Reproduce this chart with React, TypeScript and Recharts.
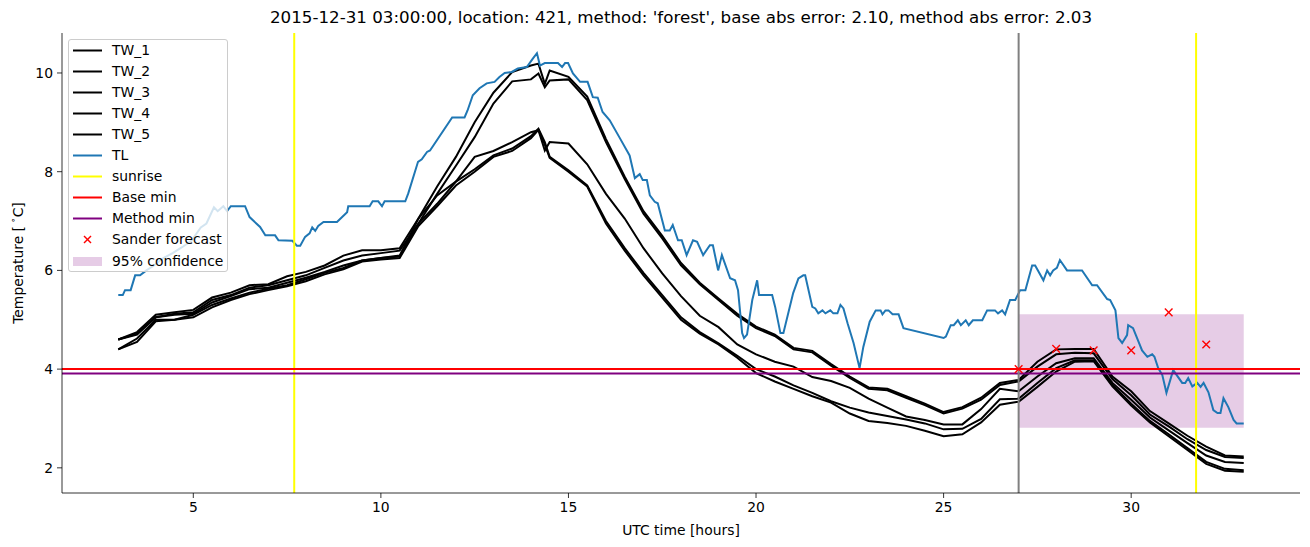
import React from "react";
import {
  ComposedChart,
  Line,
  Scatter,
  XAxis,
  YAxis,
  ReferenceLine,
  ReferenceArea,
  Legend,
  Label,
} from "recharts";

// --- data ---
const twHours = [
  3, 3.5, 4, 4.5, 5, 5.5, 6, 6.5, 7, 7.5, 8, 8.5, 9, 9.5, 10, 10.5, 11, 11.5, 12, 12.5,
  13, 13.5, 14, 14.2, 14.37, 14.5, 15, 15.5, 16, 16.5, 17, 17.5, 18, 18.5, 19, 19.5, 20, 20.5,
  21, 21.5, 22, 22.5, 23, 23.5, 24, 24.5, 25, 25.5, 26, 26.5, 27, 27.5, 28, 28.5, 29, 29.5,
  30, 30.5, 31, 31.5, 32, 32.5, 33,
];

const tw1 = [
  4.6, 4.75, 5.1, 5.15, 5.2, 5.45, 5.55, 5.7, 5.72, 5.88, 5.97, 6.1, 6.3, 6.41, 6.41, 6.45,
  7.05, 7.7, 8.3, 9.0, 9.6, 10.02, 10.15, 10.19, 9.78, 10.05, 9.92, 9.52, 8.66, 7.9, 7.2, 6.7,
  6.15, 5.75, 5.43, 5.12, 4.86, 4.7, 4.43, 4.37, 4.1, 3.85, 3.63, 3.6, 3.45, 3.3, 3.13, 3.23,
  3.42, 3.72, 3.78, 4.15, 4.4, 4.41, 4.41, 3.85, 3.55, 3.15, 2.9, 2.65, 2.43, 2.25, 2.23,
];
const tw2 = [
  4.6, 4.7, 5.05, 5.12, 5.15, 5.4, 5.5, 5.65, 5.7, 5.8, 5.9, 6.05, 6.2, 6.3, 6.35, 6.4,
  6.95, 7.55, 8.12, 8.7, 9.38, 9.83, 9.87, 9.99, 9.71, 9.85, 9.87, 9.45, 8.6, 7.85, 7.15, 6.65,
  6.1, 5.72, 5.4, 5.08, 4.83, 4.67, 4.4, 4.34, 4.07, 3.82, 3.6, 3.57, 3.42, 3.27, 3.1, 3.2,
  3.38, 3.68, 3.75, 4.05, 4.3, 4.33, 4.32, 3.8, 3.47, 3.08, 2.84, 2.58, 2.36, 2.22, 2.2,
];
const tw3 = [
  4.6, 4.72, 5.05, 5.1, 5.12, 5.35, 5.48, 5.62, 5.65, 5.75, 5.85, 5.97, 6.1, 6.2, 6.25, 6.3,
  7.05, 7.52, 7.8, 8.3, 8.42, 8.6, 8.8, 8.84, 8.43, 8.6, 8.57, 8.15, 7.55, 7.05, 6.45, 5.94,
  5.48, 5.08, 4.85, 4.5, 4.3, 4.15, 4.05, 3.84, 3.76, 3.62, 3.4, 3.22, 3.04, 2.97, 2.88, 2.88,
  3.19, 3.6, 3.55, 3.85, 4.12, 4.22, 4.22, 3.72, 3.38, 3.02, 2.76, 2.5, 2.25, 2.12, 2.1,
];
const tw4 = [
  4.4, 4.62, 5.0, 5.0, 5.1, 5.3, 5.43, 5.55, 5.63, 5.7, 5.82, 5.95, 6.05, 6.2, 6.25, 6.28,
  6.95, 7.35, 7.8, 8.05, 8.33, 8.47, 8.72, 8.87, 8.6, 8.3, 8.03, 7.72, 7.0, 6.45, 5.95, 5.5,
  5.05, 4.75, 4.52, 4.27, 4.0, 3.85, 3.67, 3.52, 3.35, 3.22, 3.12, 3.05, 2.98, 2.9, 2.78, 2.79,
  2.99, 3.39, 3.4, 3.72, 4.02, 4.18, 4.18, 3.68, 3.3, 2.95, 2.68, 2.4, 2.12, 1.98, 1.95,
];
const tw5 = [
  4.4, 4.55, 4.97, 5.0, 5.05, 5.25, 5.4, 5.52, 5.6, 5.68, 5.78, 5.92, 6.02, 6.18, 6.22, 6.25,
  6.9, 7.3, 7.72, 8.0, 8.3, 8.42, 8.68, 8.85, 8.55, 8.28, 8.0, 7.7, 6.95, 6.4, 5.9, 5.45,
  5.0, 4.72, 4.5, 4.23, 3.92, 3.75, 3.6, 3.45, 3.32, 3.1, 2.95, 2.91, 2.85, 2.75, 2.64, 2.68,
  2.92, 3.28, 3.34, 3.64, 3.95, 4.15, 4.16, 3.65, 3.26, 2.92, 2.64, 2.36, 2.08, 1.94, 1.92,
];

const tlHours = [
  3.0, 3.12, 3.18, 3.33, 3.45, 3.58, 3.75, 3.95, 4.2, 4.45, 4.7, 4.95, 5.2, 5.35, 5.55, 5.65,
  5.8, 5.9, 6.0, 6.38, 6.5, 6.78, 6.92, 7.18, 7.27, 7.64, 7.76, 7.85, 7.98, 8.1, 8.17, 8.25,
  8.33, 8.47, 8.83, 9.1, 9.13, 9.7, 9.78, 9.93, 10.03, 10.1, 10.65, 10.73, 10.99, 11.09, 11.23,
  11.31, 11.9, 12.23, 12.31, 12.45, 12.63, 12.82, 13.03, 13.16, 13.3, 13.49, 13.65, 13.89,
  14.05, 14.16, 14.24, 14.37, 14.72, 14.83, 14.91, 14.99, 15.12, 15.31, 15.51, 15.65, 15.78,
  15.91, 16.1, 16.37, 16.63, 16.77, 16.9, 16.98, 17.09, 17.17, 17.3, 17.38, 17.57, 17.7, 17.78,
  17.92, 18.02, 18.15, 18.32, 18.43, 18.59, 18.77, 18.85, 18.99, 19.09, 19.31, 19.44, 19.52,
  19.63, 19.68, 19.76, 19.9, 20.03, 20.08, 20.43, 20.51, 20.65, 20.73, 20.99, 21.13, 21.26,
  21.31, 21.5, 21.58, 21.66, 21.77, 21.85, 21.98, 22.06, 22.17, 22.25, 22.33, 22.44, 22.6,
  22.76, 22.86, 23.03, 23.19, 23.32, 23.37, 23.45, 23.53, 23.64, 23.8, 23.93, 25.0, 25.06,
  25.19, 25.27, 25.38, 25.46, 25.59, 25.67, 25.78, 26.03, 26.16, 26.37, 26.45, 26.56, 26.64,
  26.77, 26.91, 27.04, 27.18, 27.36, 27.44, 27.66, 27.76, 27.84, 27.92, 28.02, 28.1, 28.29,
  28.69, 28.96, 29.09, 29.36, 29.44, 29.58, 29.66, 29.76, 29.89, 29.92, 30.05, 30.29, 30.43,
  30.56, 30.62, 30.72, 30.83, 30.94, 31.12, 31.36, 31.44, 31.52, 31.63, 31.76, 31.85, 31.93,
  32.06, 32.19, 32.3, 32.38, 32.46, 32.59, 32.73, 32.81, 33.0,
];
const tlTemps = [
  5.5, 5.5, 5.6, 5.6, 5.9, 5.9, 6.0, 6.1, 6.25, 6.35, 6.47, 6.6, 6.87, 6.95, 7.28, 7.2,
  7.3, 7.2, 7.3, 7.3, 7.08, 6.88, 6.71, 6.71, 6.61, 6.6, 6.5, 6.5, 6.68, 6.75, 6.87, 6.8,
  6.9, 6.98, 6.98, 7.18, 7.3, 7.3, 7.4, 7.4, 7.3, 7.4, 7.4, 7.56, 8.2, 8.25, 8.4,
  8.43, 9.1, 9.1, 9.24, 9.55, 9.69, 9.79, 9.82, 9.92, 10.0, 10.02, 10.09, 10.12,
  10.29, 10.4, 10.15, 10.2, 10.2, 10.12, 10.2, 10.2, 9.99, 9.82, 9.82, 9.51, 9.5,
  9.21, 9.04, 8.68, 8.33, 7.87, 7.95, 7.83, 7.83, 7.52, 7.39, 7.36, 6.81, 6.81, 6.92,
  6.61, 6.61, 6.31, 6.61, 6.58, 6.31, 6.51, 6.51, 6.0, 6.31, 5.84, 5.8, 5.6,
  4.73, 4.63, 4.7, 5.4, 5.8, 5.5, 5.5, 5.26, 4.73, 4.73, 5.54, 5.84, 5.9,
  5.9, 5.26, 5.23, 5.13, 5.19, 5.13, 5.19, 5.13, 5.13, 5.3, 5.23, 4.93, 4.53,
  4.02, 4.45, 4.96, 5.19, 5.19, 5.11, 5.19, 5.19, 5.11, 5.11, 4.83, 4.63, 4.66,
  4.89, 4.89, 4.99, 4.89, 4.99, 4.89, 4.99, 4.99, 5.19, 5.19, 5.13, 5.19, 5.11,
  5.4, 5.4, 5.6, 5.6, 6.1, 6.1, 5.8, 6.0, 5.9, 6.0, 6.05, 6.21, 6.0,
  6.0, 5.7, 5.7, 5.42, 5.4, 5.19, 4.63, 4.53, 4.69, 4.89, 4.83, 4.38, 4.25,
  4.3, 4.25, 4.02, 3.88, 3.52, 3.98, 3.72, 3.72, 3.82, 3.65, 3.72, 3.64, 3.72,
  3.53, 3.17, 3.11, 3.11, 3.41, 3.23, 2.97, 2.9, 2.9,
];

const sunriseHours = [7.69, 31.73];
const forecastIssued = 27;
const baseMin = 4.0;
const methodMin = 3.91;
const forecastHours = [27, 28, 29, 30, 31, 32];
const forecastTemps = [4.0, 4.41, 4.38, 4.38, 5.15, 4.5];
const bandHours = [27, 33];
const bandLow = 2.81;
const bandHigh = 5.11;

const xTicks = [5, 10, 15, 20, 25, 30];
const yTicks = [2, 4, 6, 8, 10];

const toPoints = (hours: number[], temps: number[]) =>
  hours.map((t, i) => ({ t, y: temps[i] }));

const twSeries = [
  { name: "TW_1", values: tw1 },
  { name: "TW_2", values: tw2 },
  { name: "TW_3", values: tw3 },
  { name: "TW_4", values: tw4 },
  { name: "TW_5", values: tw5 },
];

const font = "'DejaVu Sans', sans-serif";
const title =
  "2015-12-31 03:00:00, location: 421, method: 'forest', base abs error: 2.10, method abs error: 2.03";

// matplotlib style 'x' marker
const XMark = (props: any) => {
  const { cx, cy } = props;
  if (cx == null || cy == null) return null;
  const r = 3.8;
  return (
    <g stroke="#ff0000" strokeWidth={1.4}>
      <line x1={cx - r} y1={cy - r} x2={cx + r} y2={cy + r} />
      <line x1={cx - r} y1={cy + r} x2={cx + r} y2={cy - r} />
    </g>
  );
};

const YLabel = () => (
  <text
    x={18}
    y={263}
    transform="rotate(-90 18 263)"
    textAnchor="middle"
    dominantBaseline="central"
    fontFamily={font}
    fontSize={13.9}
    fill="#000"
  >
    Temperature [<tspan dx={3} dy={-5} fontSize={9}>∘</tspan>
    <tspan dy={5}>C]</tspan>
  </text>
);

const legendRows = [
  { label: "TW_1", kind: "line", color: "#000000" },
  { label: "TW_2", kind: "line", color: "#000000" },
  { label: "TW_3", kind: "line", color: "#000000" },
  { label: "TW_4", kind: "line", color: "#000000" },
  { label: "TW_5", kind: "line", color: "#000000" },
  { label: "TL", kind: "line", color: "#1f77b4" },
  { label: "sunrise", kind: "line", color: "#ffff00" },
  { label: "Base min", kind: "line", color: "#ff0000" },
  { label: "Method min", kind: "line", color: "#800080" },
  { label: "Sander forecast", kind: "x", color: "#ff0000" },
  { label: "95% confidence", kind: "patch", color: "#800080" },
];

const renderLegend = () => (
  <div
    style={{
      position: "relative",
      width: 160,
      height: 233,
      boxSizing: "border-box",
      background: "rgba(255,255,255,0.8)",
      border: "1px solid #cccccc",
      borderRadius: 3,
      fontFamily: font,
      fontSize: 13.9,
      color: "#000",
    }}
  >
    {legendRows.map((row, i) => (
      <div
        key={row.label}
        style={{ position: "absolute", left: 0, top: i * 21.1 - 0.5, height: 21, width: 158 }}
      >
        <svg width={30} height={21} style={{ position: "absolute", left: 3.5, top: 0 }}>
          {row.kind === "line" && (
            <line x1={0} y1={10.5} x2={29} y2={10.5} stroke={row.color} strokeWidth={2} />
          )}
          {row.kind === "x" && (
            <g stroke={row.color} strokeWidth={1.4}>
              <line x1={11} y1={7} x2={18} y2={14} />
              <line x1={11} y1={14} x2={18} y2={7} />
            </g>
          )}
          {row.kind === "patch" && (
            <rect x={0} y={6} width={29} height={9} fill={row.color} fillOpacity={0.2} />
          )}
        </svg>
        <span
          style={{ position: "absolute", left: 43, top: 0, lineHeight: "21px", whiteSpace: "nowrap" }}
        >
          {row.label}
        </span>
      </div>
    ))}
  </div>
);

export default function App() {
  const axisLine = { stroke: "#000", strokeWidth: 0.8 };
  const tickStyle = { fill: "#000", fontSize: 13.9, fontFamily: font };
  return (
    <div
      style={{ position: "absolute", left: 0, top: 0, width: 1310, height: 547, background: "#fff" }}
    >
      <div
        style={{
          position: "absolute",
          left: 62,
          width: 1238,
          top: 7,
          textAlign: "center",
          fontFamily: font,
          fontSize: 16.7,
          lineHeight: "20px",
          color: "#000",
          whiteSpace: "nowrap",
        }}
      >
        {title}
      </div>
      <ComposedChart width={1310} height={547} margin={{ top: 33, right: 10, bottom: 0, left: 0 }}>
        <XAxis
          dataKey="t"
          type="number"
          domain={[1.5, 34.5]}
          ticks={xTicks}
          allowDataOverflow
          height={54}
          tickSize={5}
          tickMargin={4}
          tick={tickStyle}
          tickLine={axisLine}
          axisLine={axisLine}
        >
          <Label
            value="UTC time [hours]"
            position="insideBottom"
            offset={12}
            style={{ fontFamily: font, fontSize: 13.9, fill: "#000" }}
          />
        </XAxis>
        <XAxis
          xAxisId="top"
          orientation="top"
          type="number"
          domain={[1.5, 34.5]}
          height={0}
          tick={false}
          tickLine={false}
          axisLine={axisLine}
        />
        <YAxis
          type="number"
          domain={[1.49, 10.81]}
          ticks={yTicks}
          allowDataOverflow
          width={62}
          tickSize={5}
          tickMargin={4}
          tick={tickStyle}
          tickLine={axisLine}
          axisLine={axisLine}
          label={<YLabel />}
        />
        <YAxis
          yAxisId="right"
          orientation="right"
          type="number"
          domain={[1.49, 10.81]}
          width={0}
          tick={false}
          tickLine={false}
          axisLine={axisLine}
        />
        <ReferenceArea
          x1={bandHours[0]}
          x2={bandHours[1]}
          y1={bandLow}
          y2={bandHigh}
          fill="#800080"
          fillOpacity={0.2}
          stroke="none"
        />
        {twSeries.map((s) => (
          <Line
            key={s.name}
            name={s.name}
            data={toPoints(twHours, s.values)}
            dataKey="y"
            type="linear"
            stroke="#000000"
            strokeWidth={2}
            dot={false}
            activeDot={false}
            isAnimationActive={false}
          />
        ))}
        <Line
          name="TL"
          data={toPoints(tlHours, tlTemps)}
          dataKey="y"
          type="linear"
          stroke="#1f77b4"
          strokeWidth={2}
          dot={false}
          activeDot={false}
          isAnimationActive={false}
        />
        {sunriseHours.map((t) => (
          <ReferenceLine key={t} x={t} stroke="#ffff00" strokeWidth={2} />
        ))}
        <ReferenceLine y={baseMin} stroke="#ff0000" strokeWidth={2} />
        <ReferenceLine y={methodMin} stroke="#800080" strokeWidth={2} />
        <ReferenceLine x={forecastIssued} stroke="#808080" strokeWidth={2} />
        <Scatter
          name="Sander forecast"
          data={toPoints(forecastHours, forecastTemps)}
          dataKey="y"
          fill="#ff0000"
          shape={XMark}
          isAnimationActive={false}
        />
        <Legend
          content={renderLegend}
          layout="vertical"
          align="center"
          verticalAlign="middle"
          wrapperStyle={{ left: 68, top: 39, width: 160, height: 233 }}
        />
      </ComposedChart>
    </div>
  );
}
